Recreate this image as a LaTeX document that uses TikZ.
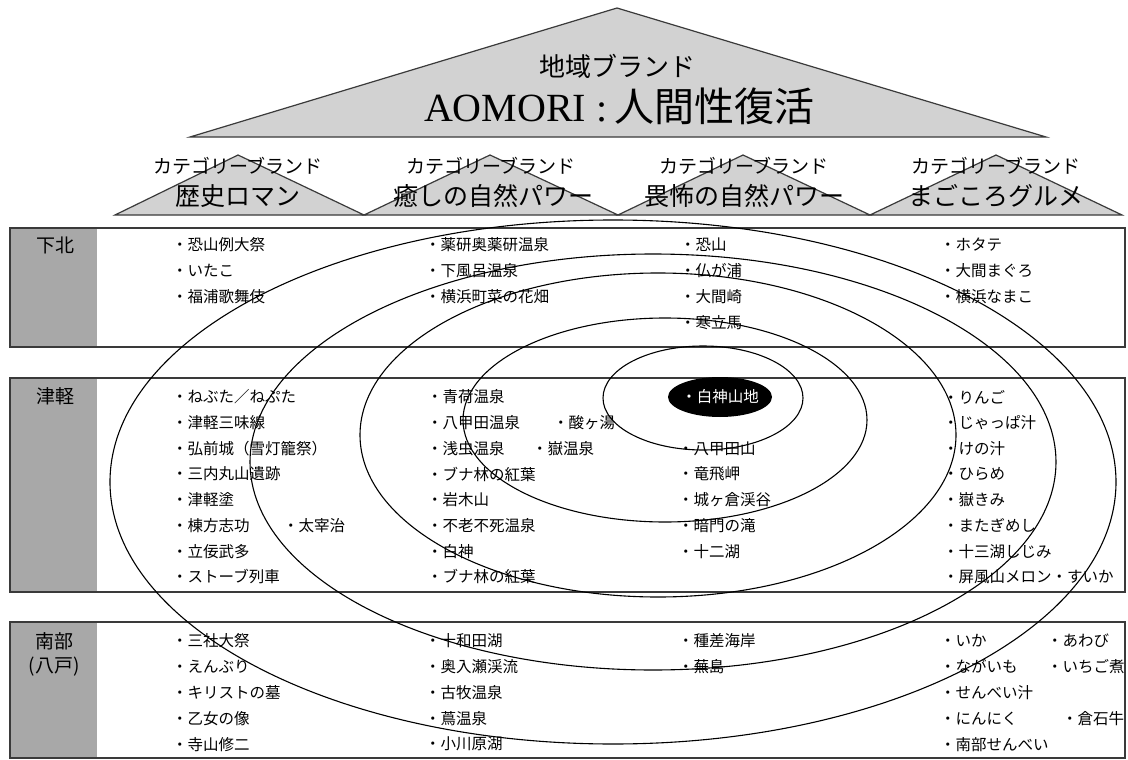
\documentclass[tikz,border=0pt]{standalone}
\usepackage{fontspec}
\setmainfont{Noto Sans CJK JP}
\newfontfamily\latinserif{Liberation Serif}
\definecolor{trigray}{HTML}{D2D2D2}
\definecolor{labgray}{HTML}{A8A8A8}
\definecolor{linegray}{HTML}{3A3A3A}
\begin{document}
\begin{tikzpicture}[x=1pt,y=-1pt,
  tri/.style={draw=linegray, line width=1.2pt, fill=trigray, line join=miter},
  band/.style={draw=linegray, line width=1.6pt, fill=white},
  lab/.style={fill=labgray, draw=none},
  item/.style={anchor=west, inner sep=0pt, font=\fontsize{15.5}{16}\selectfont},
  ring/.style={draw=black, line width=1.1pt},
  cat/.style={font=\fontsize{19}{19}\selectfont, inner sep=0pt},
  catname/.style={font=\fontsize{25}{25}\selectfont, inner sep=0pt},
  region/.style={font=\fontsize{19}{19}\selectfont, inner sep=0pt}]
\clip (0,0) rectangle (1128,760);
\fill[white] (0,0) rectangle (1128,760);
% top triangle
\draw[tri] (190,137) -- (617,8) -- (1046,137) -- cycle;
\node[inner sep=0pt, font=\fontsize{26}{26}\selectfont] (brand) at (617,66) {地域ブランド};
\node[inner sep=0pt, font=\fontsize{40}{40}\selectfont] (aomori) at (619,106) {{\latinserif AOMORI :\,}人間性復活};
% category triangles
\draw[tri] (115,215) -- (238,155) -- (364,215) -- cycle;
\draw[tri] (364,215) -- (490,155) -- (618,215) -- cycle;
\draw[tri] (618,215) -- (743,155) -- (870,215) -- cycle;
\draw[tri] (870,215) -- (996,155) -- (1122,215) -- cycle;
\node[cat] (c1) at (238,166) {カテゴリーブランド};
\node[cat] (c2) at (491,166) {カテゴリーブランド};
\node[cat] (c3) at (744,166) {カテゴリーブランド};
\node[cat] (c4) at (996,166) {カテゴリーブランド};
\node[catname] (n1) at (238,196) {歴史ロマン};
\node[catname] (n2) at (493,196) {癒しの自然パワー};
\node[catname] (n3) at (744,196) {畏怖の自然パワー};
\node[catname] (n4) at (996,196) {まごころグルメ};
% bands
\draw[band] (10,228) rectangle (1125,347);
\fill[lab] (11,229) rectangle (97,346);
\draw[band] (10,378) rectangle (1125,592);
\fill[lab] (11,379) rectangle (97,591);
\draw[band] (10,622) rectangle (1125,758);
\fill[lab] (11,623) rectangle (97,757);
\node[region] (shimokita) at (55,245) {下北};
\node[region] (tsugaru) at (55,396) {津軽};
\node[region] (nanbu) at (54,641) {南部};
\node[region] (hachinohe) at (54,667) {(八戸)};
% Shimokita items
\foreach \t [count=\i] in {恐山例大祭,いたこ,福浦歌舞伎}
  \node[item] (sa\i) at (172,{245+(\i-1)*26}) {・\t};
\foreach \t [count=\i] in {薬研奥薬研温泉,下風呂温泉,横浜町菜の花畑}
  \node[item] (sb\i) at (425,{245+(\i-1)*26}) {・\t};
\foreach \t [count=\i] in {恐山,仏が浦,大間崎,寒立馬}
  \node[item] (sc\i) at (680,{245+(\i-1)*26}) {・\t};
\foreach \t [count=\i] in {ホタテ,大間まぐろ,横浜なまこ}
  \node[item] (sd\i) at (940,{245+(\i-1)*26}) {・\t};
% Tsugaru items
\foreach \t [count=\i] in {ねぶた／ねぷた,津軽三味線,弘前城（雪灯籠祭）,三内丸山遺跡,津軽塗,棟方志功,立佞武多,ストーブ列車}
  \node[item] (ta\i) at (172,{397+(\i-1)*25.7}) {・\t};
\node[item] (ta9) at (283,{397+5*25.7}) {・太宰治};
\foreach \t [count=\i] in {青荷温泉,八甲田温泉,浅虫温泉,ブナ林の紅葉,岩木山,不老不死温泉,白神,ブナ林の紅葉}
  \node[item] (tb\i) at (427,{397+(\i-1)*25.7}) {・\t};
\node[item] (tb9) at (553,{397+1*25.7}) {・酸ヶ湯};
\node[item] (tb10) at (532,{397+2*25.7}) {・嶽温泉};
\foreach \t [count=\i from 3] in {八甲田山,竜飛岬,城ヶ倉渓谷,暗門の滝,十二湖}
  \node[item] (tc\i) at (678,{397+(\i-1)*25.7}) {・\t};
\foreach \t [count=\i] in {りんご,じゃっぱ汁,けの汁,ひらめ,嶽きみ,またぎめし,十三湖しじみ,屏風山メロン・すいか}
  \node[item] (td\i) at (943,{397+(\i-1)*25.7}) {・\t};
% Nanbu items
\foreach \t [count=\i] in {三社大祭,えんぶり,キリストの墓,乙女の像,寺山修二}
  \node[item] (na\i) at (172,{641+(\i-1)*25.8}) {・\t};
\foreach \t [count=\i] in {十和田湖,奥入瀬渓流,古牧温泉,蔦温泉,小川原湖}
  \node[item] (nb\i) at (425,{641+(\i-1)*25.8}) {・\t};
\foreach \t [count=\i] in {種差海岸,蕪島}
  \node[item] (nc\i) at (678,{641+(\i-1)*25.8}) {・\t};
\foreach \t [count=\i] in {いか,ながいも,せんべい汁,にんにく,南部せんべい}
  \node[item] (nd\i) at (940,{641+(\i-1)*25.8}) {・\t};
\node[item] (nd6) at (1047,641) {・あわび};
\node[item] (nd7) at (1047,{641+25.8}) {・いちご煮};
\node[item] (nd8) at (1062,{641+3*25.8}) {・倉石牛};
% concentric rings
\draw[ring] (613,482) ellipse [x radius=503, y radius=262];
\draw[ring] (653,462) ellipse [x radius=403, y radius=208];
\draw[ring] (658,435) ellipse [x radius=298, y radius=162];
\draw[ring] (665,420) ellipse [x radius=202, y radius=102];
\draw[ring] (703,398) ellipse [x radius=100, y radius=52];
% core
\fill[black] (720,397) ellipse [x radius=52, y radius=20];
\node[inner sep=0pt, text=white, font=\fontsize{15.5}{16}\selectfont] (shirakami) at (720,397) {・白神山地};
\end{tikzpicture}
\end{document}
